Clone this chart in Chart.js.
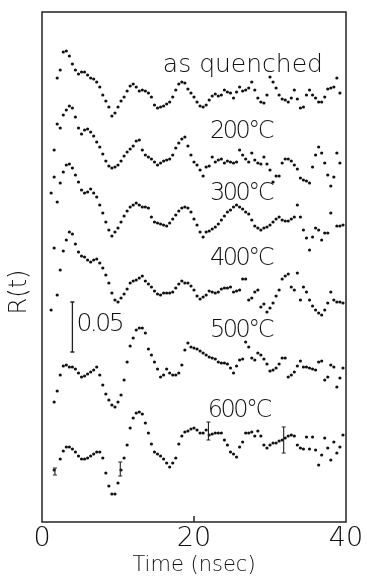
<!DOCTYPE html>
<html>
<head>
<meta charset="utf-8">
<style>
  html, body { margin: 0; padding: 0; background: #fff; }
  canvas { display: block; }
</style>
<script src="https://cdn.jsdelivr.net/npm/chart.js@4.4.1/dist/chart.umd.min.js"></script>
</head>
<body>
<canvas id="rtChart" width="367" height="578"></canvas>
<script>
// sample times, nsec
var times = [1.2, 1.6, 2.0, 2.4, 2.8, 3.2, 3.6, 4.0, 4.4, 4.8,
  5.2, 5.6, 6.0, 6.4, 6.8, 7.2, 7.6, 8.0, 8.4, 8.8,
  9.2, 9.6, 10.0, 10.4, 10.8, 11.2, 11.6, 12.0, 12.4, 12.8,
  13.2, 13.6, 14.0, 14.4, 14.8, 15.2, 15.6, 16.0, 16.4, 16.8,
  17.2, 17.6, 18.0, 18.4, 18.8, 19.2, 19.6, 20.0, 20.4, 20.8,
  21.2, 21.6, 22.0, 22.4, 22.8, 23.2, 23.6, 24.0, 24.4, 24.8,
  25.2, 25.6, 26.0, 26.4, 26.8, 27.2, 27.6, 28.0, 28.4, 28.8,
  29.2, 29.6, 30.0, 30.4, 30.8, 31.2, 31.6, 32.0, 32.4, 32.8,
  33.2, 33.6, 34.0, 34.4, 34.8, 35.2, 35.6, 36.0, 36.4, 36.8,
  37.2, 37.6, 38.0, 38.4, 38.8, 39.2, 39.6];

// R(t) in units of 0.001, each curve shifted up so they stack as in the figure
var asQuenched = [null, null,
  444, 452, 470, 471, 466, 458, 452, 448, 450, 450,
  447, 444, 443, 440, 435, 427, 421, 415, 406, 409,
  415, 421, 425, 431, 436, 438, 435, 431, 432, 431,
  429, 425, 417, 414, 415, 416, 418, 420, 425, 432,
  438, 440, 439, 433, 429, 425, 420, 416, 415, 417,
  422, 426, 428, 426, 427, 432, 430, 429, 424, 430,
  435, 431, 432, 434, 440, 432, 424, 420, 419, 427,
  445, 440, 434, 427, 423, 422, 420, 424, 432, 423,
  414, 415, 427, 432, 427, 424, 420, 420, 425, 433,
  434, 435, 444, 429, null];

var t200 = [null,
  372, 398, 394, 407, 412, 416, 414, 405, 394, 388,
  392, 393, 390, 386, 380, 375, 368, 361, 356, 354,
  355, 357, 361, 366, 370, 373, 376, 381, 382, 372,
  367, 365, 363, 360, 357, 359, 361, 362, 363, 367,
  374, 379, 383, 385, 376, 367, 360, 357, 352, 346,
  355, 356, 365, 360, 362, 363, 359, 361, 360, 359,
  360, 372, 367, 363, 360, 369, 362, 359, 358, 365,
  358, 352, 340, 346, 346, 359, 363, 363, 361, 357,
  353, 344, 342, 341, 339, 355, 367, 375, 369, 359,
  347, 336, 345, 369, 359, null];

var t300 = [329, 345, 320, 339, 350, 357, 358, 354, 347, 340,
  332, 329, 330, 333, 329, 325, 317, 309, 300, 292,
  286, 290, 294, 300, 306, 311, 315, 317, 319, 317,
  315, 315, 314, 305, 300, 299, 298, 297, 296, 299,
  303, 307, 311, 314, 315, 314, 310, 303, 297, 290,
  285, 290, 291, 293, 295, 298, 302, 306, 310, 312,
  315, 317, 315, 313, 310, 308, 302, 296, 294, 292,
  294, 295, 297, 300, 303, 305, 302, 301, 301, 303,
  305, 317, 305, 292, 284, 272, 285, 294, 292, 282,
  289, 289, 309, null, 296, 296, 297];

var t400 = [212, 274, 227, 252, 271, 282, 290, 288, 278, 270,
  266, 265, 262, 260, 262, 263, 259, 254, 247, 239,
  229, 222, 220, 224, 228, 233, 239, 241, 242, 244,
  246, 241, 238, 235, 231, 228, 227, 229, 229, 229,
  230, 234, 238, 241, 239, 239, 236, 232, 226, 223,
  225, 227, 231, 230, 229, 230, 233, 234, 234, 235,
  230, 231, 232, 243, 243, 222, 224, 230, 232, 215,
  218, 210, 214, 219, 226, 232, 243, 246, 248, 235,
  232, 249, 222, 235, 230, 222, 216, 212, 209, 207,
  212, 219, 230, 222, 220, 220, 219];

var t500 = [null,
  120, 131, 147, 156, 157, 155, 155, 153, 149, 145,
  146, 148, 150, 152, 155, 147, 137, 128, 122, 117,
  115, 120, 127, 142, 160, 176, 184, 192, 194, 194,
  189, 173, 167, 160, 153, 145, 147, 153, 149, 147,
  147, 149, 157, 172, 179, 175, 174, 173, 171, 169,
  167, 165, 164, 163, 160, 159, 159, 158, 154, 149,
  156, 162, 163, 180, 175, 164, 162, 169, 167, 163,
  158, 151, 152, 154, 158, 164, 164, 145, 147, 150,
  156, 161, 155, 155, 154, 153, 152, 160, 161, 142,
  145, 157, 155, 135, 144, 154];

var t600 = [null,
  52, null, 63, 71, 75, 75, 73, 70, 66, 63,
  63, 64, 66, 68, 70, 70, 64, 49, 36, 28,
  28, 39, 52, 64, 77, 94, 104, 109, 110, 108,
  99, 89, 78, 70, 68, 66, 63, 59, 55, 59,
  64, 78, 86, 90, 91, 93, 94, 92, 89, 89,
  92, 87, 88, 89, 89, 89, 82, 77, 70, 68,
  65, 75, 80, 89, 89, 90, 86, 91, 86, 77,
  74, 77, 79, 79, 81, 82, 84, 86, 87, 86,
  77, 74, 73, 85, 73, 85, 72, 57, 67, 84,
  74, 62, 80, 69, 75, 87];

var seriesNames = ['as quenched', '200°C', '300°C', '400°C', '500°C', '600°C'];
var seriesValues = [asQuenched, t200, t300, t400, t500, t600];

// error bars on the 600°C curve (time, low, high)
var errTimes = [1.7, 10.3, 21.9, 31.8];
var errLow = [47, 46, 82, 69];
var errHigh = [54, 60, 100, 95];

// 0.05 scale bar
var scaleBarTime = 4.0;
var scaleBarLow = 170;
var scaleBarHigh = 220;

// where the curve names sit (time, value of baseline)
var labelTimes = [15.9, 22.1, 22.1, 22.1, 22.1, 21.8];
var labelValues = [450, 384, 322, 257, 185, 105];

var lightFont = "'DejaVu Sans', sans-serif";
var ink = '#111';

function toPoints(vals) {
  var pts = [];
  for (var i = 0; i < times.length; i++) {
    if (vals[i] !== null && vals[i] !== undefined) pts.push({x: times[i], y: vals[i]});
  }
  return pts;
}

var datasets = seriesValues.map(function(vals, i) {
  return {
    label: seriesNames[i],
    data: toPoints(vals),
    showLine: false,
    pointRadius: 1.6,
    pointBackgroundColor: ink,
    pointBorderWidth: 0
  };
});

function ibar(ctx, x, y1, y2, cap) {
  ctx.beginPath();
  ctx.moveTo(x, y1); ctx.lineTo(x, y2);
  ctx.moveTo(x - cap, y1); ctx.lineTo(x + cap, y1);
  ctx.moveTo(x - cap, y2); ctx.lineTo(x + cap, y2);
  ctx.stroke();
}

var decorations = {
  id: 'decorations',
  afterDatasetsDraw: function(chart) {
    var ctx = chart.ctx, area = chart.chartArea;
    var xs = chart.scales.x, ys = chart.scales.y;
    ctx.save();
    ctx.strokeStyle = '#222';
    ctx.lineWidth = 1.5;
    ctx.strokeRect(area.left, area.top, area.right - area.left, area.bottom - area.top);

    // small inward tick at 20 ns
    var x20 = xs.getPixelForValue(20);
    ctx.beginPath();
    ctx.moveTo(x20, area.bottom);
    ctx.lineTo(x20, area.bottom - 6);
    ctx.stroke();

    // scale bar
    ctx.lineWidth = 1.3;
    ibar(ctx, xs.getPixelForValue(scaleBarTime), ys.getPixelForValue(scaleBarHigh), ys.getPixelForValue(scaleBarLow), 2);

    // error bars
    ctx.lineWidth = 1.1;
    for (var i = 0; i < errTimes.length; i++) {
      ibar(ctx, xs.getPixelForValue(errTimes[i]), ys.getPixelForValue(errHigh[i]), ys.getPixelForValue(errLow[i]), 2);
    }

    ctx.fillStyle = ink;
    ctx.textBaseline = 'alphabetic';
    ctx.textAlign = 'left';
    ctx.font = "200 25px " + lightFont;
    ctx.letterSpacing = '-2.5px';
    ctx.fillText('0.05', xs.getPixelForValue(scaleBarTime) + 4, ys.getPixelForValue(scaleBarLow + 21));

    for (var j = 0; j < seriesNames.length; j++) {
      ctx.font = (j === 0 ? "200 25px " : "200 24px ") + lightFont;
      ctx.letterSpacing = j === 0 ? '0px' : '-2.5px';
      ctx.fillText(seriesNames[j], xs.getPixelForValue(labelTimes[j]), ys.getPixelForValue(labelValues[j]));
    }

    // y axis title
    ctx.letterSpacing = '0px';
    ctx.font = "200 24px " + lightFont;
    ctx.translate(20, (area.top + area.bottom) / 2 + 25);
    ctx.rotate(-Math.PI / 2);
    ctx.textAlign = 'center';
    ctx.textBaseline = 'middle';
    ctx.fillText('R(t)', 0, 0);
    ctx.restore();
  }
};

new Chart(document.getElementById('rtChart'), {
  type: 'scatter',
  data: { datasets: datasets },
  options: {
    responsive: false,
    animation: false,
    devicePixelRatio: 1,
    layout: { padding: { top: 12, right: 21, left: 0, bottom: 0 } },
    plugins: {
      legend: { display: false },
      tooltip: { enabled: false }
    },
    scales: {
      x: {
        type: 'linear',
        min: 0,
        max: 40,
        grid: { display: false, drawTicks: false, tickLength: 0 },
        border: { display: false },
        ticks: {
          stepSize: 20,
          padding: 1,
          maxRotation: 0,
          autoSkip: false,
          color: ink,
          font: { family: lightFont, size: 27, weight: 200 }
        },
        title: {
          display: true,
          text: 'Time (nsec)',
          color: ink,
          padding: { top: 0, bottom: 0 },
          font: { family: lightFont, size: 21, weight: 200 }
        },
        afterFit: function(scale) { scale.height = 56; }
      },
      y: {
        type: 'linear',
        min: 0,
        max: 510,
        grid: { display: false, drawTicks: false },
        border: { display: false },
        ticks: { display: false },
        afterFit: function(scale) { scale.width = 42; }
      }
    }
  },
  plugins: [decorations]
});
</script>
</body>
</html>
